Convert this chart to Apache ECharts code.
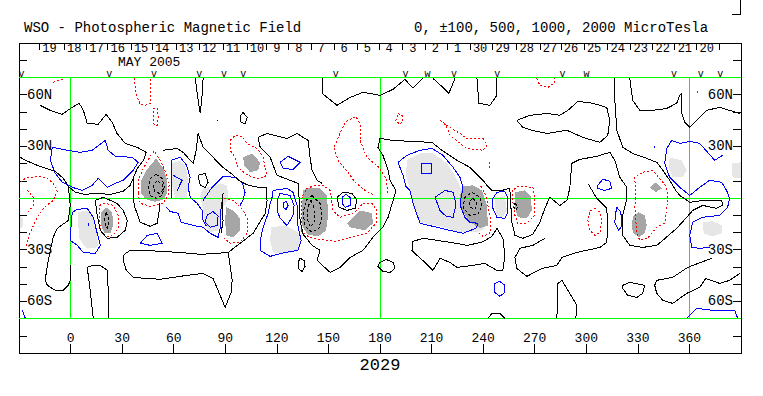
<!DOCTYPE html>
<html><head><meta charset="utf-8">
<script src="https://cdn.jsdelivr.net/npm/echarts@6/dist/echarts.min.js"></script>
<style>html,body{margin:0;padding:0;background:#fff}#c{width:763px;height:396px}#c svg path{shape-rendering:crispEdges}</style>
</head><body><div id="c"></div>
<script>
// ---- axis / annotation data ----
const lonTicks = [0,30,60,90,120,150,180,210,240,270,300,330,360];
const latLabels = [60,30,-30,-60];
const dayLons = [-18.2,-3.8,9.1,21.5,35.1,47.3,61.3,74.8,88.6,102.5,114.1,126.9,139.9,153.3,166.8,179.4,193.2,206.3,219.3,232.3,245.5,259.4,273.0,285.2,298.6,312.3,325.7,338.5,351.4,364.1,377.2];
const dayLabels = ['19','18','17','16','15','14','13','12','11','10','9','8','7','6','5','4','3','2','1','30','29','28','27','26','25','24','23','22','21','20',''];
const vLons = [-28.6,22.5,48.5,74.8,89.3,100.5,154.2,194.9,207.7,223.0,248.2,286.2,300.1,351.0,366.6,378.0];
const vChars = ['v','v','v','v','v','v','v','v','w','v','v','v','w','v','v','v'];
const greenLons = [0,180,360];
const greenLats = [70,0,-70];

// ---- contour data [longitude, latitude] ----
const zeroLines = [
 [[-18,54],[-12,51],[-5,48.5],[0,52],[5,55],[7.4,51],[9.7,43.3],[16,42.8],[20.7,48.5],[24.2,44],[27,37.5],[31.8,31.7],[38.8,29.4],[44,26.5],[42.4,21.9],[38.8,17.2],[36.4,11.4],[36.4,4.4],[37,-4.3],[40.5,-14.1],[46.3,-16.4],[50.4,-14.7],[51.6,-7.2],[52,-3]],
 [[-29.2,23.6],[-26.3,21.9],[-19.4,19],[-8.9,15.5],[-4.2,11.4],[-1.3,6.8],[2.7,3.3],[8.5,2.1],[14.4,2.7],[23.1,2.1],[30.6,3.9],[34.7,7.4],[36.4,11.4]],
 [[-1.3,6.8],[-0.2,-4.3],[-1.3,-13],[-7.7,-17.6],[-10.1,-22.8],[-11.8,-30.4],[-14,-42],[-14.7,-47.8],[-13.5,-50.7],[-8.9,-53.6],[-4.2,-53.6],[-1.3,-50.7],[-0.2,-47.8],[-0.2,-39.1]],
 [[13.2,-69.9],[11.4,-53.6],[9.7,-40.3],[12.6,-39.1],[17.3,-39.1],[21.3,-42],[21.9,-53.6],[21.9,-69.9]],
 [[14.4,-1.4],[19,0.4],[27.1,-3.1],[30.6,-7.2],[33,-13],[31.8,-18.8],[27.1,-22.8],[21.3,-23.4],[17.3,-18.8],[15.5,-10.1],[14.4,-1.4]],
 [[113.7,6.2],[114.3,-1.4],[113.2,-9],[109.7,-14.7],[106.2,-20.5],[98.6,-26.3],[91.7,-31.6],[84.1,-32.2],[75.4,-32.7],[63.8,-31.6],[52.1,-31],[43.4,-30.4],[34.7,-30.4],[31.2,-32.7],[30.6,-36.2],[32.4,-42],[36.4,-46.1],[44.6,-46.7],[52.1,-47.2],[67.8,-44.9],[77.1,-43.8],[82.9,-46.7],[85.3,-52.5],[89.9,-63.5],[93.4,-54.8],[94,-47.8],[92.8,-39.1],[91.7,-31.6]],
 [[53.9,27.7],[62,28.8],[65.5,26.5],[69.6,21.9],[71.3,20.1],[73.1,27.7],[74.2,37.5],[77.1,29.4],[82.9,23.6],[88.7,17.8],[94,13.8],[98.6,9.7],[103.3,7.4],[109.1,6.2],[113.7,6.2]],
 [[132.3,8.5],[120.1,13.2],[116.1,23.6],[110.3,29.4],[109.1,35.2],[114.3,37.5],[125.9,34.6],[131.8,37.5],[135.3,35.2],[138.2,33.4],[139.3,23.6],[140.5,16.1],[143.4,10.3],[146.3,8.5]],
 [[132.3,8.5],[132.9,0.4],[133.5,-13],[135.3,-21.1],[140.5,-27.5],[145.1,-30.4],[143.4,-36.2],[151,-43.2],[156.7,-40.3],[162.6,-34.5],[170.1,-30.4],[175.9,-22.8],[181.7,-17],[184.7,-11.2],[187.6,-1.4],[189.3,4.4],[185.8,10.3],[184.7,16.1],[181.7,24.8],[178.8,29.4],[180,34.6],[187.6,33.4],[210.2,32.3],[216,27.7],[224.8,21.9],[232.3,17.8],[239.9,10.3],[242.2,7.4],[245.1,4.4],[250.9,4.4],[255.5,5.6],[256.7,-14.1],[258.5,-21.7],[263.1,-23.4],[268.9,-21.1],[273,-14.1],[275.9,-6],[278.8,0.4],[284.6,-4.3],[288.7,-1.4],[290.4,5.6],[291.6,20.1],[296.2,22.4],[306.1,24.2],[313.7,26.5],[316.6,21.9],[319.5,12],[323.6,6.2],[323.6,-0.2],[321.2,-10.1],[321.2,-21.7],[325.3,-27.5],[332.8,-28.7],[341,-27.5],[344.5,-24.6],[352.6,-17.6],[358.4,-11.2],[361.9,-7.2],[367.7,-4.3],[375.8,-6],[379.3,-4.3],[378.8,-1.4],[367.7,-1.4],[360.2,-2.5],[354.4,1.5],[352,4.4],[348.5,10.3],[344.5,16.1],[341,20.7],[335.2,23],[327,25.9],[321.2,29.4],[317.8,39.3],[316.6,56.7],[316.6,69.5]],
 [[199.2,-25.2],[205,-23.4],[220.7,-25.7],[230.6,-27.5],[239.3,-25.7],[245.1,-22.3],[248,-17.6],[251.5,-23.4],[252.6,-33.3],[251.5,-42],[248,-42],[241,-38],[234.1,-39.1],[224.8,-40.3],[220.7,-37.4],[214.9,-35],[210.8,-42],[206.2,-37.4],[201.5,-33.3],[198.6,-30.4],[199.2,-25.2]],
 [[300.9,8.5],[306.1,-0.2],[311.9,-6],[312.5,-15.9],[311.9,-25.7],[307.9,-28.7],[294.5,-31.6],[285.8,-34.5],[282.9,-39.1],[274.2,-40.9],[265.4,-45.5],[259.6,-40.9],[258.5,-34.5],[261.4,-29.2],[268.9,-27.5],[275.9,-23.4]],
 [[282.9,-69.9],[283.5,-49.6],[285.8,-47.8],[290.4,-55.4],[294.5,-62.3],[293.9,-69.9]],
 [[321.2,-50.7],[325.3,-49],[334,-50.7],[332.8,-55.4],[329.4,-57.7],[324.1,-56.5],[321.2,-52.5],[321.2,-50.7]],
 [[389.2,-43.8],[383.4,-47.8],[377.6,-49.6],[369.5,-46.7],[366,-51.9],[358.4,-55.4],[350.3,-61.2],[344.5,-59.4],[341,-55.4],[339.8,-50.7],[341,-47.8],[350.3,-46.1],[359,-40.3],[372.9,-35]],
 [[325.3,69.5],[327,56.7],[331.1,50.9],[338.7,50.9],[346.8,52],[352.6,55],[354.4,59.6],[355.5,60.8],[355.5,49.1],[357.3,43.9],[360.2,41],[364.2,45.1],[370,50.9],[377.6,52.6],[389.2,49.1]],
 [[259.6,45.1],[263.1,41],[268.3,39.3],[277.1,37.5],[288.7,39.3],[298,35.2],[307.9,32.3],[312.5,36.4],[313.7,45.1],[311.9,52.6],[303.8,55],[295.1,56.1],[289.3,50.9],[284.6,48],[277.1,49.1],[267.2,48],[259.6,45.1]],
 [[146.3,69.5],[146.3,60.8],[155,53.8],[162.6,58.4],[170.1,61.4],[180,59.6],[187.6,63.1],[194.5,68.9],[199.2,63.7],[205,69.5]],
 [[210.8,69.5],[216.6,64.2],[220.1,60.8],[223.6,69.5]],
 [[236.4,69.5],[237.5,55],[243.9,53.8],[248,59.6],[248,69.5]],
 [[72.5,69.5],[74.2,56.7],[75.4,49.1],[76.5,59.6],[77.1,69.5]],
 [[100.4,49.7],[102.7,46.8],[101.5,43.3],[99.2,43.9],[98.6,47.4],[100.4,49.7]],
 [[85.3,45.4],[85.3,44.6]],
 [[88.7,2.7],[88.2,-4.3],[88.7,-13],[87.6,-20.5]],
 [[155,0.4],[158.5,3.3],[163.7,2.7],[166.6,-1.4],[165.5,-6],[160.8,-7.2],[156.2,-5.4],[155,0.4]],
 [[180,-37.4],[183.5,-35.6],[187.6,-37.4],[188.7,-40.9],[185.8,-43.2],[181.7,-42.6],[178.8,-39.7],[180,-37.4]],
 [[133.5,-35],[135.8,-36.2],[136.4,-39.7],[134.7,-42.6],[132.3,-40.9],[132.3,-37.4],[133.5,-35]],
 [[242.8,-69.9],[245.1,-67],[249.7,-67],[252.6,-69.9]],
 [[74.2,13.2],[78.3,14.3],[80,9.1],[78.3,6.2],[75.4,7.4],[74.2,13.2]]
];
const posLines = [
 [[-10.6,29.4],[-1.9,27.7],[5.6,26.5],[12.6,27.7],[20.2,33.4],[21.9,27.7],[26,24.2],[35.9,23.6],[39.3,20.7],[36.4,16.1],[30.6,10.3],[26,8.5],[21.3,6.2],[16.1,11.4],[12.6,7.4],[6.8,4.4],[1,6.2],[-4.8,9.1],[-8.9,14.3],[-11.8,21.9],[-10.6,29.4]],
 [[1,-8.3],[3.9,-6.6],[9.7,-6],[13.2,-11.2],[15.5,-20.5],[17.3,-27.5],[14.4,-32.2],[7.4,-31.6],[3.9,-27.5],[-0.2,-24.6],[0.4,-14.7],[1,-8.3]],
 [[10.3,-14.3],[10.3,-16]],
 [[40.5,-26.3],[44.6,-21.7],[50.4,-20.5],[53.3,-26.3],[46.3,-27.5],[40.5,-26.3]],
 [[55.6,-5.4],[57.9,-7.8],[62.6,-8.9],[64.3,-14.1],[71.3,-15.9],[77.1,-17],[81.2,-20.5],[85.8,-22.8],[87,-17.6],[87,-10.1],[88.2,-1.4]],
 [[58.5,-0.2],[58.5,10.3],[58.5,21.9],[63.8,23.6],[67.2,19.5],[69.6,12],[68.4,6.2],[69.6,0.4],[73.6,-3.1],[76.5,-7.2],[77.1,-13],[79,-16.4]],
 [[59.7,13.2],[64.9,10.3],[62,4.4]],
 [[77.1,-1.4],[82.3,6.2],[88.7,12.6],[95.7,12],[99.8,9.1],[101.5,3.3],[100.4,-0.8],[98.6,-4.3]],
 [[79.4,-10.1],[82.9,-7.8],[85.8,-10.6],[85.3,-15.9],[81.2,-17],[78.3,-14.1],[79.4,-10.1]],
 [[121.9,20.7],[126.5,24.2],[133.5,20.7],[129.4,16.6],[123.6,17.2],[121.9,20.7]],
 [[110.3,-30.4],[116.1,-33.9],[124.8,-31.6],[132.3,-30.4],[134.1,-24.6],[132.3,-16.4],[131.8,-4.3],[129.4,3.3],[125.9,5.6],[117.8,4.4],[117.2,0.4],[116.1,-3.1],[114.9,-9],[112,-17],[110.3,-24.6],[110.3,-30.4]],
 [[120.1,-1.4],[121.9,2.7],[127.7,1.5],[130,-4.3],[129.4,-10.1],[125.9,-15.9],[121.9,-11.8],[120.1,-7.2],[120.1,-1.4]],
 [[123.6,-3.1],[125.4,-1.9],[126.5,-4.3],[125.4,-6.6],[123.6,-5.4],[123.6,-3.1]],
 [[157.9,0.4],[160.2,2.1],[162.6,0.4],[162.6,-4.3],[159.7,-5.4],[157.9,-3.1],[157.9,0.4]],
 [[190.5,20.7],[195.7,24.8],[203.3,27.7],[210.2,28.8],[216.6,24.8],[222.5,17.8],[226.5,12],[228.3,6.2],[227.1,-0.2],[227.1,-5.4],[229.4,-11.2],[232.3,-14.1],[237,-14.7],[235.8,-17.6],[228.3,-20.5],[220.7,-18.8],[213.1,-17],[203.3,-14.7],[199.2,-3.1],[197.4,4.4],[195.1,6.8],[193.4,13.2],[190.5,20.7]],
 [[204.4,20.1],[210.2,20.1],[210.2,14.3],[204.4,14.3],[204.4,20.1]],
 [[212,0.4],[217.8,4.4],[222.5,3.3],[224.2,-3.7],[222.5,-11.2],[218.4,-10.6],[214.9,-7.2],[212,0.4]],
 [[245.7,-0.2],[248,3.3],[252.6,3.9],[254.4,-0.2],[254.4,-8.3],[252.6,-11.8],[248,-11.2],[245.7,-6],[245.7,-0.2]],
 [[306.7,7.4],[309.6,10.9],[313.7,9.7],[314.8,5.6],[310.8,4.4],[306.7,5.6],[306.7,7.4]],
 [[317.8,-5.4],[320.1,-8.3],[320.7,-15.9],[318.9,-18.8],[316.6,-14.1],[317.2,-8.3],[317.8,-5.4]],
 [[379.3,24.8],[374.7,21.9],[370.6,26.5],[366,31.7],[360.2,32.9],[354.4,31.7],[349.7,33.4],[346.8,28.8],[345.6,20.1],[348.5,12],[354.4,6.2],[360.2,1.5],[366,6.2],[371.8,10.3],[378.8,9.1],[381.6,4.4],[383.4,-0.2],[382.2,-5.4],[377.6,-10.1],[367.7,-11.2],[361.9,-14.1],[360.2,-21.7],[361.3,-28.7],[366,-29.2],[371.8,-28.7]],
 [[358.4,-69.9],[364.2,-64.1],[373.5,-65.2],[386.3,-65.2],[388.1,-69.9]],
 [[246.8,-49.6],[249.7,-48.4],[252.6,-50.7],[252.6,-54.8],[249.7,-57.1],[246.8,-54.8],[246.8,-49.6]],
 [[339.8,30.3],[339.8,29.3]],
 [[-28,-65.2],[-26.3,-69.9]]
];
const negLines = [
 [[37,69.5],[38.2,59.6],[40.5,54.4],[43.4,53.8],[46.3,55],[46.3,69.5]],
 [[48.1,52],[50.4,52],[51,46.8],[50.4,42.2],[48.6,42.2],[48.1,46.8],[48.1,52]],
 [[-10.1,67.1],[-7.1,68.3],[-4.2,68.9]],
 [[-29.2,9.1],[-26.3,11.4],[-19.4,12.6],[-13.5,11.4],[-10.1,8.5],[-7.7,3.9],[-10.1,-1.4],[-15.3,-5.4],[-19.4,-11.2],[-23.4,-19.9],[-26.3,-29.2]],
 [[-25.2,4.4],[-21.7,0.4],[-21.7,-4.3],[-24.6,-8.3]],
 [[39.3,2.7],[39.3,10.3],[42.4,17.2],[46.3,24.2],[48.6,27.1],[52.1,21.9],[55.6,14.3],[57.4,8.5],[56.8,1.5],[53.9,-3.1],[46.3,-4.8],[40.5,-3.1],[39.3,2.7]],
 [[16.7,-4.3],[20.2,-3.1],[24.8,-4.3],[27.7,-10.1],[27.7,-17.6],[24.8,-21.7],[20.7,-22.8],[17.9,-19.9],[16.7,-13],[16.7,-4.3]],
 [[89.3,-0.2],[94.6,-1.4],[100.4,-7.2],[103.3,-13],[102.7,-20.5],[98.6,-25.7],[92.8,-26.3],[89.3,-23.4]],
 [[92.8,33.4],[95.7,36.4],[100.4,35.2],[102.7,31.7],[108.5,28.8],[112,23.6],[113.2,17.8],[114.3,13.2],[110.3,11.4],[105.6,12],[101.5,14.3],[97.5,17.8],[95.7,23.6],[92.8,27.7],[92.8,33.4]],
 [[184.7,2.7],[183.5,11.4],[178.8,18.4],[172.4,23.6],[168.4,33.4],[168.4,42.8],[166,47.4],[160.2,44.5],[156.7,37.5],[153.3,29.4],[155.6,21.9],[161.4,14.9],[165.5,9.1],[171.3,4.4],[177.1,1.5]],
 [[190.5,49.1],[192.8,48],[193.4,44.5],[191.6,42.8],[189.3,45.1],[190.5,49.1]],
 [[214.9,45.1],[220.7,41],[226.5,37.5],[230.6,34.6],[239.9,34.6],[242.2,30.6],[239.9,27.7],[230.6,28.8],[226.5,31.7],[220.7,36.4],[218.4,42.2],[214.9,45.1]],
 [[243.9,20.7],[243.9,17.2]],
 [[134.1,-19.4],[134.1,-8.3],[134.7,1],[137.6,5.6],[142.2,7.4],[146.9,7.4],[151,4.4],[152.7,-7.2],[156.7,-11.2],[165.5,-8.3],[170.1,-3.1],[175.3,-3.1],[178.2,-7.2],[178.2,-14.1],[172.4,-20.5],[162.6,-22.8],[155,-25.2],[143.4,-24],[138.2,-22.3],[134.1,-19.4]],
 [[238.7,6.8],[241.6,1.5],[243.3,-7.2],[244.5,-14.1],[243.9,-20.5],[239.9,-22.3],[236.4,-19.4]],
 [[257.3,4.4],[257.3,-2.5],[258.5,-10.1],[260.2,-14.7],[265.4,-14.7],[270.1,-10.1],[270.1,0.4],[268.9,6.2],[260.2,6.8],[257.3,4.4]],
 [[271.2,69.5],[273,65.4],[277.7,64.2],[281.7,67.1],[281.7,69.5]],
 [[328.8,-0.2],[328.2,-5.4],[329.4,-20.5],[331.1,-24.6],[335.7,-23.4],[341,-17],[345.6,-14.7],[346.8,-5.4],[347.4,-0.2],[346.8,6.2],[342.7,11.4],[338.7,16.1],[332.8,14.9],[328.2,12],[328.8,-0.2]],
 [[305,-6],[307.9,-8.3],[309,-14.1],[307.9,-19.9],[305,-21.7],[302,-18.8],[300.9,-13],[302,-7.8],[305,-6]],
 [[364.8,62],[364.8,60.8]]
];
const strongNegLines = [
 [[49.8,13.7],[53.3,11.4],[54.5,6.2],[53.3,1.5],[49.8,-0.2],[46.3,1.5],[45.2,6.2],[46.3,11.4],[49.8,13.7]],
 [[51,9.6],[53.3,7.9],[53.9,5],[52.1,2.7],[49.2,3.3],[48.1,6.2],[49.2,9.1],[51,9.6]],
 [[20.7,-8.3],[22.5,-13],[21.3,-17.6],[19.6,-13.5],[20.7,-8.3]],
 [[140.5,1.5],[145.1,-3.1],[146.3,-10.1],[144.5,-17.6],[140.5,-19.9],[136.4,-16.4],[135.3,-8.3],[137,-1.4],[140.5,1.5]],
 [[139.9,-1.4],[142.2,-7.2],[141.6,-14.1],[139.3,-17],[137.6,-11.8],[138.2,-4.8],[139.9,-1.4]],
 [[233.5,3.3],[238.1,0.4],[239.3,-4.8],[237,-9.5],[232.3,-10.1],[228.3,-5.4],[229.4,0.4],[233.5,3.3]],
 [[234.1,-0.2],[236.4,-3.1],[235.2,-6.6],[232.3,-5.4],[232.3,-1.9],[234.1,-0.2]],
 [[258.5,-3.1],[260.2,-4.8],[259,-7.2],[257.9,-5.4],[258.5,-3.1]]
];
const posFill = [
 [[4.5,-8.3],[9.7,-7.2],[13.2,-11.8],[15,-19.9],[16.1,-27.5],[14.4,-29.2],[8.5,-28.7],[5.1,-23.4],[4.5,-15.9]],
 [[59.1,20.1],[63.8,21.9],[67.2,17.8],[68.4,10.3],[67.8,0.4],[65.5,-1.4],[60.9,-0.2],[59.1,7.4]],
 [[77.1,5.6],[82.3,6.8],[87,8.5],[91.1,7.4],[91.7,-1.4],[88.2,-5.4],[87.6,-13],[85.8,-18.8],[81.2,-19.9],[78.3,-15.9],[77.1,-7.2],[75.4,1.5]],
 [[116.6,-17],[124.8,-15.9],[132.3,-19.9],[134.1,-26],[132.3,-31],[124.8,-32.2],[117.8,-31.6],[116.1,-24.6]],
 [[195.7,21.9],[203.3,25.9],[210.8,25.9],[219,20.1],[223.6,13.2],[227.7,4.4],[232.3,-10.1],[241,-17.6],[237,-19.9],[226.5,-19.9],[214.9,-16.4],[203.3,-14.1],[199.2,-4.3],[197.4,5.6],[195.1,13.2]],
 [[246.8,0.4],[252.6,1],[253.8,-7.2],[251.5,-11.2],[248,-10.1],[246.8,-4.3]],
 [[348.5,23.6],[355.5,21.9],[358.4,16.1],[356.1,12],[350.3,12],[348,17.8]],
 [[384.6,20.1],[389.8,20.7],[389.8,11.4],[385.1,12]],
 [[367.7,-14.1],[373.5,-13.5],[378.8,-15.9],[378.8,-20.5],[372.9,-22.3],[368.3,-20.5]],
 [[-29.2,-10.1],[-27.5,-11.8],[-28,-17],[-29.2,-17.6]]
];
const negFill = [
 [[49.8,23],[53.9,17.2],[56.2,10.3],[56.2,3.3],[54.2,-0.8],[49.2,-2.2],[44,-0.8],[40.8,2.7],[40.8,9.7],[44,16.1]],
 [[17.9,-8.3],[20.7,-5.4],[24.2,-8.3],[24.8,-15.9],[23.1,-20.5],[19.6,-20.5],[17.9,-15.9]],
 [[90.5,-5.4],[94.6,-7.2],[98.6,-11.8],[98.6,-18.8],[94.6,-22.8],[90.5,-21.7],[89.9,-13]],
 [[100.4,23.6],[105.6,25.9],[110.3,20.7],[109.1,16.1],[104.4,14.9],[101,19]],
 [[135.3,4.4],[139.3,6.2],[145.1,5.6],[149.2,1.5],[149.8,-10.1],[148.6,-18.8],[144,-22.3],[137.6,-21.1],[134.7,-15.9],[134.7,-4.3]],
 [[160.8,-14.7],[168.4,-7.2],[175.3,-8.9],[175.9,-14.7],[171.3,-18.8],[162.6,-17]],
 [[228.3,6.8],[234.1,7.4],[239.3,4.4],[242.2,-4.3],[242.8,-15.9],[238.1,-17.6],[232.3,-14.1],[227.7,-7.2],[226.5,1.5]],
 [[258.5,3.3],[264.3,4.4],[267.8,1],[268.3,-7.2],[265.4,-11.8],[260.2,-11.2],[258.5,-5.4]],
 [[340.4,9.1],[343.9,5.6],[340.4,3.3],[336.9,6.2]],
 [[330.5,-8.3],[334,-10.1],[335.2,-15.9],[334,-20.5],[330.5,-22.8],[327,-19.9],[326.5,-14.1],[327.6,-10.1]]
];

// ---- build ----
const mono = '"Liberation Mono", "DejaVu Sans Mono", monospace';
const greenSegs = greenLons.map(l => [[l,-70],[l,70]]).concat(greenLats.map(l => [[-30,l],[390,l]]));

function polySeries(arr, style, closed, z) {
  return {
    type: 'custom', z: z, silent: true, animation: false,
    data: arr.map((a, i) => [a[0][0], a[0][1], i]),
    renderItem: function (params, api) {
      const pts = arr[params.dataIndex].map(p => api.coord(p));
      return { type: closed ? 'polygon' : 'polyline', shape: { points: pts }, style: style };
    }
  };
}
function nearestDay(v) {
  let best = -1, bd = 1e9;
  dayLons.forEach((d, i) => { const e = Math.abs(d - v); if (e < bd) { bd = e; best = i; } });
  if (bd >= 0.05) return '';
  const t = dayLabels[best];
  return t.length === 1 ? '{s|' + t + '}' : '{d|' + t + '}';
}
const latFmt = v => (v > 0 ? v + 'N' : (-v) + 'S');
const dayFont = { fontFamily: mono, fontSize: 12, lineHeight: 11, color: '#000' };

const yBase = {
  type: 'value', min: -90, max: 90, interval: 10,
  axisLine: { show: false, onZero: false }, splitLine: { show: false },
  axisTick: { show: true, inside: true, length: 8, lineStyle: { color: '#000', width: 1 } },
  axisLabel: { show: true, inside: true, customValues: latLabels, formatter: latFmt, margin: 8,
    showMinLabel: true, showMaxLabel: true, hideOverlap: false,
    fontFamily: mono, fontSize: 14, lineHeight: 14, color: '#000', verticalAlign: 'middle' }
};

const option = {
  animation: false,
  backgroundColor: '#fff',
  grid: { left: 19, top: 43, width: 722, height: 310, show: true, borderColor: '#000', borderWidth: 1,
    backgroundColor: 'rgba(0,0,0,0)', containLabel: false, outerBoundsMode: 'none' },
  xAxis: [
    { type: 'value', min: -30, max: 390, position: 'bottom',
      axisLine: { show: false, onZero: false }, splitLine: { show: false },
      axisTick: { show: true, inside: true, length: 9, customValues: lonTicks, lineStyle: { color: '#000' } },
      axisLabel: { show: true, inside: true, customValues: lonTicks, margin: 15, verticalAlign: 'middle',
        showMinLabel: true, showMaxLabel: true, hideOverlap: false,
        fontFamily: mono, fontSize: 13, lineHeight: 13, color: '#000' } },
    { type: 'value', min: -30, max: 390, position: 'top',
      axisLine: { show: false, onZero: false }, splitLine: { show: false },
      axisTick: { show: true, inside: true, length: 7, customValues: dayLons, lineStyle: { color: '#000' } },
      axisLabel: { show: true, inside: true, customValues: dayLons, formatter: nearestDay, margin: 5.5,
        showMinLabel: true, showMaxLabel: true, hideOverlap: false,
        align: 'left', verticalAlign: 'middle',
        fontFamily: mono, fontSize: 12, lineHeight: 11, color: '#000',
        rich: {
          d: Object.assign({ padding: [0, 0, 0, 3] }, dayFont),
          s: Object.assign({ padding: [0, 0, 0, 6.5] }, dayFont)
        } } }
  ],
  yAxis: [
    Object.assign({}, yBase, { position: 'left' }),
    Object.assign({}, yBase, { position: 'right' })
  ],
  graphic: [
    { type: 'text', left: 24, top: 21, style: { text: 'WSO - Photospheric Magnetic Field', font: '14px ' + mono, lineHeight: 14, fill: '#000' } },
    { type: 'text', left: 414, top: 21, style: { text: '0, \u00b1100, 500, 1000, 2000 MicroTesla', font: '14px ' + mono, lineHeight: 14, fill: '#000' } },
    { type: 'text', x: 118, y: 62.5, style: { text: 'MAY 2005', font: '13px ' + mono, lineHeight: 12, fill: '#000', align: 'left', verticalAlign: 'middle' } },
    { type: 'text', x: 380, y: 365, style: { text: '2029', font: '17px ' + mono, fill: '#000', align: 'center', verticalAlign: 'middle' } },
    { type: 'line', shape: { x1: 740.5, y1: 0, x2: 740.5, y2: 14.5 }, style: { stroke: '#000', lineWidth: 1 } },
    { type: 'line', shape: { x1: 732, y1: 14.5, x2: 741, y2: 14.5 }, style: { stroke: '#000', lineWidth: 1 } }
  ],
  series: [
    polySeries(posFill, { fill: '#e6e6e6', stroke: 'none' }, true, 1),
    polySeries(negFill, { fill: '#a6a6a6', stroke: 'none' }, true, 2),
    polySeries(greenSegs, { stroke: '#00ff00', lineWidth: 1, fill: 'none' }, false, 3),
    polySeries(posLines, { stroke: '#0000ff', lineWidth: 1, fill: 'none' }, false, 4),
    polySeries(negLines, { stroke: '#ff0000', lineWidth: 1, fill: 'none', lineDash: [2, 2] }, false, 4),
    polySeries(strongNegLines, { stroke: '#000', lineWidth: 1, fill: 'none', lineDash: [3, 2] }, false, 5),
    polySeries(zeroLines, { stroke: '#000', lineWidth: 1, fill: 'none' }, false, 5),
    {
      type: 'custom', z: 6, silent: true, animation: false,
      data: vLons.map((v, i) => [v, 72, i]),
      renderItem: function (params, api) {
        const p = api.coord([api.value(0), 71.7]);
        return { type: 'text', x: p[0], y: p[1],
          style: { text: vChars[params.dataIndex], font: '10px ' + mono, lineHeight: 7, fill: '#000', align: 'center', verticalAlign: 'middle' } };
      }
    }
  ]
};
const chart = echarts.init(document.getElementById('c'), null, { renderer: 'svg' });
chart.setOption(option);
</script>
</body></html>
